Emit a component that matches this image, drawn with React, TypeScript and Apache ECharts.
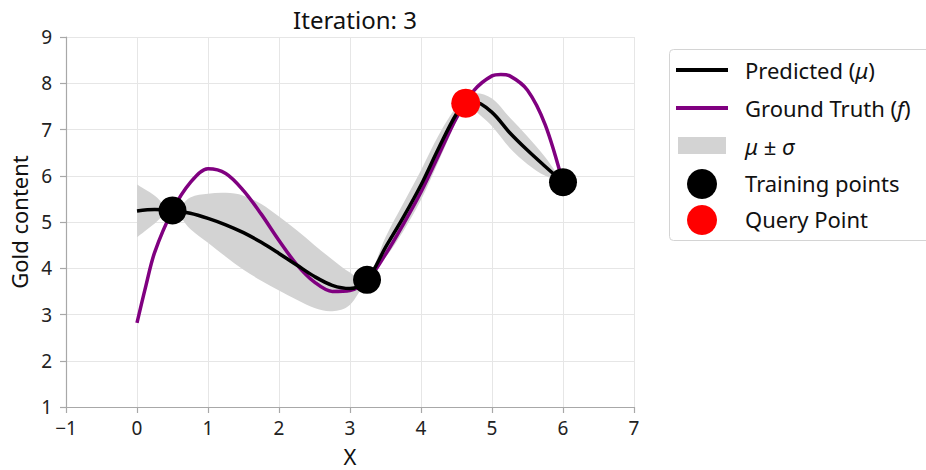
import React, { useEffect, useRef } from 'react';
import * as echarts from 'echarts';

// Ground truth f(x)
const X_GT = [0, 0.125, 0.25, 0.5, 0.75, 1, 1.25, 1.5, 1.75, 2, 2.25, 2.5, 2.75, 3, 3.25, 3.5, 3.75, 4, 4.25, 4.5, 4.75, 5, 5.125, 5.25, 5.5, 5.75, 6];
const GROUND_TRUTH = [2.82, 3.62, 4.35, 5.25, 5.85, 6.15, 6.05, 5.68, 5.17, 4.6, 4.08, 3.7, 3.5, 3.52, 3.75, 4.3, 4.95, 5.65, 6.45, 7.25, 7.85, 8.16, 8.19, 8.16, 7.85, 7.1, 5.84];

// Predicted mean and sigma
const X_MEAN = [0, 0.25, 0.5, 0.75, 1, 1.25, 1.5, 1.75, 2, 2.25, 2.5, 2.75, 3, 3.24, 3.5, 3.75, 4, 4.25, 4.5, 4.63, 4.75, 5, 5.25, 5.5, 5.75, 6];
const MEAN = [5.24, 5.27, 5.25, 5.19, 5.08, 4.94, 4.77, 4.56, 4.32, 4.07, 3.82, 3.63, 3.56, 3.75, 4.45, 5.1, 5.8, 6.6, 7.34, 7.57, 7.6, 7.37, 6.93, 6.55, 6.2, 5.86];
const SIGMA = [0.57, 0.3, 0, 0.34, 0.53, 0.69, 0.8, 0.83, 0.8, 0.75, 0.68, 0.56, 0.35, 0, 0.22, 0.3, 0.32, 0.28, 0.15, 0, 0.18, 0.3, 0.33, 0.3, 0.2, 0];

// Points
const TRAIN_X = [0.5, 3.24, 6];
const TRAIN_Y = [5.25, 3.75, 5.86];
const QUERY_X = [4.63];
const QUERY_Y = [7.57];

const TITLE = 'Iteration: 3';
const X_NAME = 'X';
const Y_NAME = 'Gold content';

const FONT = '"Noto Sans", "DejaVu Sans", sans-serif';

function catmull(pts: number[][], start: boolean): string {
  let d = start ? `M${pts[0][0]},${pts[0][1]}` : `L${pts[0][0]},${pts[0][1]}`;
  const n = pts.length;
  for (let i = 0; i < n - 1; i++) {
    const p0 = pts[Math.max(i - 1, 0)];
    const p1 = pts[i];
    const p2 = pts[i + 1];
    const p3 = pts[Math.min(i + 2, n - 1)];
    const c1x = p1[0] + (p2[0] - p0[0]) / 6;
    const c1y = p1[1] + (p2[1] - p0[1]) / 6;
    const c2x = p2[0] - (p3[0] - p1[0]) / 6;
    const c2y = p2[1] - (p3[1] - p1[1]) / 6;
    d += ` C${c1x},${c1y} ${c2x},${c2y} ${p2[0]},${p2[1]}`;
  }
  return d;
}

const fmtNum = (v: number) => String(v).replace('-', '\u2212');

export default function App() {
  const ref = useRef<HTMLDivElement>(null);
  useEffect(() => {
    if (!ref.current) return;
    const chart = echarts.init(ref.current, undefined, { renderer: 'svg' });
    const axisColor = '#a8a8a8';
    const rich = {
      a: { fontFamily: FONT, fontSize: 22, fill: '#111' },
      i: { fontFamily: FONT, fontSize: 22, fontStyle: 'italic', fill: '#111' },
    };
    const option: any = {
      animation: false,
      backgroundColor: '#ffffff',
      title: {
        text: TITLE,
        left: 350,
        top: 2,
        textAlign: 'center',
        textStyle: { fontFamily: FONT, fontSize: 24, fontWeight: 'normal', color: '#111' },
      },
      grid: { left: 66, right: 292, top: 37, bottom: 63, containLabel: false, outerBoundsMode: 'none' },
      xAxis: {
        type: 'value',
        min: -1,
        max: 7,
        interval: 1,
        name: X_NAME,
        nameLocation: 'middle',
        nameGap: 38,
        nameTextStyle: { fontFamily: FONT, fontSize: 22, color: '#111' },
        axisLine: { show: true, onZero: false, lineStyle: { color: axisColor, width: 1.2 } },
        axisTick: { show: true, length: 6, lineStyle: { color: axisColor, width: 1.2 } },
        axisLabel: { fontFamily: FONT, fontSize: 19, color: '#222', margin: 11, formatter: fmtNum },
        splitLine: { show: true, lineStyle: { color: '#e6e6e6', width: 1 } },
      },
      yAxis: {
        type: 'value',
        min: 1,
        max: 9,
        interval: 1,
        name: Y_NAME,
        nameLocation: 'middle',
        nameGap: 36,
        nameTextStyle: { fontFamily: FONT, fontSize: 22, color: '#111' },
        axisLine: { show: true, onZero: false, lineStyle: { color: axisColor, width: 1.2 } },
        axisTick: { show: true, length: 6, lineStyle: { color: axisColor, width: 1.2 } },
        axisLabel: { fontFamily: FONT, fontSize: 19, color: '#222', margin: 14, formatter: fmtNum },
        splitLine: { show: true, lineStyle: { color: '#e6e6e6', width: 1 } },
      },
      series: [
        {
          type: 'custom',
          name: 'band',
          silent: true,
          data: [[0, 5]],
          renderItem: (params: any, api: any) => {
            if (params.dataIndex !== 0) return null;
            const up = X_MEAN.map((x, i) => api.coord([x, MEAN[i] + SIGMA[i]]));
            const lo = X_MEAN.map((x, i) => api.coord([x, MEAN[i] - SIGMA[i]])).reverse();
            const d = catmull(up, true) + ' ' + catmull(lo, false) + ' Z';
            return { type: 'path', shape: { pathData: d }, style: { fill: '#d3d3d3', stroke: null } };
          },
          z: 1,
        },
        {
          type: 'line',
          name: 'Ground Truth (f)',
          data: X_GT.map((x, i) => [x, GROUND_TRUTH[i]]),
          smooth: 0.33,
          symbol: 'none',
          lineStyle: { color: '#800080', width: 3.5 },
          silent: true,
          z: 2,
        },
        {
          type: 'line',
          name: 'Predicted (μ)',
          data: X_MEAN.map((x, i) => [x, MEAN[i]]),
          smooth: 0.33,
          symbol: 'none',
          lineStyle: { color: '#000000', width: 3.5 },
          silent: true,
          z: 3,
        },
        {
          type: 'scatter',
          name: 'Training points',
          data: TRAIN_X.map((x, i) => [x, TRAIN_Y[i]]),
          symbol: 'circle',
          symbolSize: 28,
          itemStyle: { color: '#000000', opacity: 1 },
          silent: true,
          z: 4,
        },
        {
          type: 'scatter',
          name: 'Query Point',
          data: QUERY_X.map((x, i) => [x, QUERY_Y[i]]),
          symbol: 'circle',
          symbolSize: 29,
          itemStyle: { color: '#ff0000', opacity: 1 },
          silent: true,
          z: 5,
        },
      ],
      graphic: [
        { type: 'rect', shape: { x: 669.5, y: 49.5, width: 300, height: 191, r: 4 }, style: { fill: '#fff', stroke: '#d4d4d4', lineWidth: 1 } },
        { type: 'line', shape: { x1: 676, y1: 70, x2: 728, y2: 70 }, style: { stroke: '#000', lineWidth: 4 } },
        { type: 'line', shape: { x1: 676, y1: 108, x2: 728, y2: 108 }, style: { stroke: '#800080', lineWidth: 4 } },
        { type: 'rect', shape: { x: 678, y: 137, width: 48, height: 17 }, style: { fill: '#d3d3d3' } },
        { type: 'circle', shape: { cx: 702, cy: 184, r: 15 }, style: { fill: '#000' } },
        { type: 'circle', shape: { cx: 702, cy: 220, r: 15 }, style: { fill: '#ff0000' } },
        { type: 'text', x: 745, y: 70, style: { text: '{a|Predicted (}{i|μ}{a|)}', verticalAlign: 'middle', rich } },
        { type: 'text', x: 745, y: 108, style: { text: '{a|Ground Truth (}{i|f}{a|)}', verticalAlign: 'middle', rich } },
        { type: 'text', x: 745, y: 146, style: { text: '{i|μ}{a| ± }{i|σ}', verticalAlign: 'middle', rich } },
        { type: 'text', x: 745, y: 183, style: { text: 'Training points', verticalAlign: 'middle', fontFamily: FONT, fontSize: 22, fill: '#111' } },
        { type: 'text', x: 745, y: 219, style: { text: 'Query Point', verticalAlign: 'middle', fontFamily: FONT, fontSize: 22, fill: '#111' } },
      ],
    };
    chart.setOption(option);
    return () => chart.dispose();
  }, []);
  return <div ref={ref} style={{ position: 'fixed', left: 0, top: 0, width: 926, height: 470 }} />;
}
